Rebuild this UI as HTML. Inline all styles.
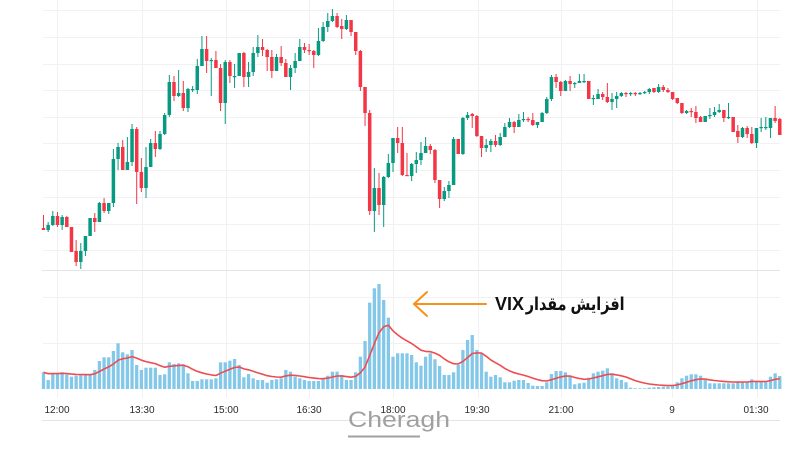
<!DOCTYPE html>
<html>
<head>
<meta charset="utf-8">
<style>
  html,body{margin:0;padding:0;background:#fff;}
  #wrap{position:relative;width:800px;height:450px;overflow:hidden;background:#fff;}
  svg{position:absolute;left:0;top:0;}
  .ann{position:absolute;top:293px;line-height:22px;font-size:18px;font-weight:bold;
       font-family:"Liberation Sans","DejaVu Sans",sans-serif;color:#111;white-space:nowrap;}
  #vix{left:495px;}
  #fa{right:175px;transform:scaleX(0.8);transform-origin:100% 50%;}
</style>
</head>
<body>
<div id="wrap">
<svg id="chart" width="800" height="450" viewBox="0 0 800 450" xmlns="http://www.w3.org/2000/svg">
  <g id="grid" stroke="#f1f1f3" stroke-width="1" shape-rendering="crispEdges">
    <line x1="43" y1="10.5" x2="780" y2="10.5"/>
    <line x1="43" y1="37.5" x2="780" y2="37.5"/>
    <line x1="43" y1="64.5" x2="780" y2="64.5"/>
    <line x1="43" y1="90.5" x2="780" y2="90.5"/>
    <line x1="43" y1="117.5" x2="780" y2="117.5"/>
    <line x1="43" y1="143.5" x2="780" y2="143.5"/>
    <line x1="43" y1="170.5" x2="780" y2="170.5"/>
    <line x1="43" y1="197.5" x2="780" y2="197.5"/>
    <line x1="43" y1="224.5" x2="780" y2="224.5"/>
    <line x1="43" y1="250.5" x2="780" y2="250.5"/>
    <line x1="43" y1="297.5" x2="780" y2="297.5"/>
    <line x1="43" y1="343.5" x2="780" y2="343.5"/>
    <line x1="57.5" y1="0" x2="57.5" y2="398"/>
    <line x1="142.5" y1="0" x2="142.5" y2="398"/>
    <line x1="226.5" y1="0" x2="226.5" y2="398"/>
    <line x1="309.5" y1="0" x2="309.5" y2="398"/>
    <line x1="393.5" y1="0" x2="393.5" y2="398"/>
    <line x1="478.5" y1="0" x2="478.5" y2="398"/>
    <line x1="561.5" y1="0" x2="561.5" y2="398"/>
    <line x1="672.5" y1="0" x2="672.5" y2="398"/>
    <line x1="757.5" y1="0" x2="757.5" y2="398"/>
  </g>
  <g stroke="#e3e4e8" stroke-width="1" shape-rendering="crispEdges">
    <line x1="42" y1="270.5" x2="780" y2="270.5"/>
    <line x1="42" y1="420.5" x2="780" y2="420.5"/>
  </g>
  <g id="vol"></g>
  <polyline id="ma" fill="none" stroke="#ee4c50" stroke-width="1.6" stroke-linejoin="round" points=""/>
  <g id="candles"></g>

  <!-- watermark -->
  <text x="348" y="427" font-family="Liberation Sans, sans-serif" font-size="22" fill="#a0a0a0" textLength="102" lengthAdjust="spacingAndGlyphs">Cheragh</text>
  <rect x="348" y="435.5" width="72" height="2" fill="#a0a0a0"/>

  <!-- axis labels -->
  <g font-family="Liberation Sans, sans-serif" font-size="10" fill="#2a2a2a" text-anchor="middle">
    <text x="57" y="413">12:00</text>
    <text x="142" y="413">13:30</text>
    <text x="226" y="413">15:00</text>
    <text x="309" y="413">16:30</text>
    <text x="393" y="413">18:00</text>
    <text x="477" y="413">19:30</text>
    <text x="561" y="413">21:00</text>
    <text x="672" y="413">9</text>
    <text x="756" y="413">01:30</text>
  </g>

  <!-- arrow -->
  <g stroke="#f5921e" stroke-width="2" fill="none" stroke-linecap="round" stroke-linejoin="round">
    <line x1="414" y1="304" x2="486" y2="304"/>
    <polyline points="427,292 414,304 427,316"/>
  </g>
</svg>
<div class="ann" id="vix">VIX</div>
<div class="ann" id="fa" dir="rtl">افزایش مقدار</div>
</div>
<script>
(function(){
var cs = "r 228 230 215 230|g 230 225 222 232|g 225 216 211 226|r 216 225 212 227|g 225 217 215 230|r 217 227 216 227|r 227 252 227 252|r 251 262 240 266|g 262 251 243 269|g 251 236 236 256|g 236 218 218 236|r 218 222 213 232|g 222 203 202 222|r 203 211 198 213|g 211 203 203 214|g 203 159 149 207|g 159 147 143 170|r 147 170 140 170|g 170 162 137 170|g 162 129 124 166|r 129 172 127 204|r 172 188 158 192|g 188 167 147 198|g 167 143 139 167|r 143 149 131 157|g 149 134 131 150|g 134 115 113 135|g 115 82 75 117|r 82 96 76 101|g 96 93 70 97|r 93 108 81 111|g 108 89 88 112|g 90 89 86 92|g 90 66 59 94|g 66 49 36 66|r 49 61 36 73|g 61 60 58 96|r 60 68 51 68|r 68 103 64 111|g 103 62 60 124|r 62 76 60 83|g 76 76 64 88|g 76 53 53 76|r 53 77 52 87|g 77 72 62 87|g 72 53 47 76|g 53 47 35 57|r 47 50 39 56|r 50 57 49 71|r 57 71 50 78|g 71 57 54 71|r 57 63 46 66|r 63 77 59 77|g 77 68 65 90|g 68 61 53 73|g 61 47 39 61|r 47 50 43 53|r 50 51 44 55|r 51 55 50 68|g 55 41 28 56|g 41 27 22 42|g 27 21 13 32|g 21 16 9 22|r 16 27 13 28|r 26 29 19 39|g 29 20 15 30|r 20 32 20 36|r 32 51 32 55|r 51 87 50 91|r 87 113 87 126|r 113 211 110 215|g 211 188 168 232|r 188 205 173 215|g 205 177 176 227|g 177 163 154 178|g 163 138 138 172|r 138 143 127 153|r 143 175 127 176|r 175 176 153 176|g 176 164 163 181|g 164 160 152 173|g 160 153 142 165|g 153 146 137 153|r 146 150 144 154|r 150 180 149 183|r 180 199 180 208|g 199 191 187 201|g 191 185 181 198|g 185 139 137 185|r 139 154 139 154|g 154 118 117 155|g 118 115 112 120|r 114 116 113 128|r 116 136 115 137|r 136 148 136 157|g 148 145 139 152|g 145 141 139 152|r 141 145 135 147|g 145 137 133 146|g 137 127 123 137|g 127 122 118 128|r 122 127 121 133|g 127 120 114 127|g 120 119 112 122|r 119 120 117 122|r 120 125 113 126|g 125 122 122 128|g 122 113 112 122|g 113 99 97 114|g 99 77 75 101|r 77 82 74 88|r 82 91 81 96|g 91 81 80 91|r 81 84 76 91|g 84 83 82 88|g 83 81 74 83|g 81 81 74 83|r 81 99 81 99|g 99 98 95 105|g 99 94 89 99|r 94 97 92 100|r 97 102 83 103|g 102 99 93 110|g 99 96 92 108|g 96 93 92 97|r 93 94 92 97|g 94 93 92 96|r 93 94 92 96|g 94 93 92 95|g 93 92 91 94|g 92 89 88 94|r 88 92 88 93|g 92 87 84 93|r 87 90 85 92|r 90 92 88 93|r 92 99 92 100|r 98 103 98 104|r 103 113 103 114|g 113 111 110 114|r 111 112 108 117|r 112 118 106 123|r 117 122 116 122|g 122 116 116 122|g 116 115 108 119|g 115 112 107 117|g 112 110 104 113|r 110 118 110 122|g 118 117 103 119|r 117 132 117 132|r 131 137 125 143|g 137 128 127 138|r 128 134 126 138|r 134 143 127 144|g 143 128 128 148|g 128 127 118 132|g 128 127 117 130|g 128 118 118 138|r 118 121 106 123|r 119 135 118 135";
var vs = [372.3,380,373.3,373.3,372.3,374.3,376.7,375.7,375,375,375,370,361,357.3,357.3,351,343.3,352.3,354.3,350,365,370,367.7,367.7,367.7,375,374.3,362.3,364,363.3,364.3,373.3,381,381,379.3,379.3,379.3,378.3,362.3,362.3,360.7,359,365,377.3,374,378.3,380,380,382.7,380,379.3,378.3,370,371.7,376.7,378.3,380,381,381,381,379,375.7,371.7,371.7,375,380,380,372.3,356.7,341,302.7,288.3,284,300,317.7,356.7,353.3,353.3,353.3,355,362.3,365.7,356.7,353.3,359.3,366,375,375,372.3,365,350,340,335,350,353.3,371.7,376.7,375,377.3,382.3,382.3,380.7,380,380,383,385.7,386,386,382.3,374,371,371,372.3,375.7,384.3,383.3,382.7,377.7,373.3,371.7,370.7,368.3,373.3,378.3,380,382.3,387.7,388.3,388.3,388.3,387.7,387.3,387,386.7,386.7,385,382.3,378.3,375.7,374.3,374.3,375.7,380,383.3,383.3,383.3,383.3,383.3,383.3,382.3,381.7,381.7,379.3,381,382.3,381,376.7,373.3,376];
var NS="http://www.w3.org/2000/svg";
var base=389, x0=43.5, dx=4.66;
var gC=document.getElementById('candles'), gV=document.getElementById('vol');
var rows=cs.split('|');
function el(n,a){var e=document.createElementNS(NS,n);for(var k in a)e.setAttribute(k,a[k]);return e;}
for(var i=0;i<rows.length;i++){
  var p=rows[i].split(' ');
  var col=p[0]==='g'?'#089981':'#f23645';
  var o=+p[1],c=+p[2],h=+p[3],l=+p[4];
  var cx=x0+i*dx;
  gC.appendChild(el('line',{x1:cx,y1:h,x2:cx,y2:l,stroke:col,'stroke-width':1}));
  var t=Math.min(o,c),b=Math.max(o,c);
  var hh=Math.max(1.2,b-t);
  gC.appendChild(el('rect',{x:cx-1.75,y:t,width:3.5,height:hh,fill:col}));
}
var pts=[],e=null,a=0.18;
for(var j=0;j<vs.length;j++){
  var cx2=x0+j*dx;
  var v=base-vs[j];
  gV.appendChild(el('rect',{x:cx2-1.65,y:vs[j],width:3.3,height:v,fill:'#84c8e9'}));
  e=(e===null)?v:(a*v+(1-a)*e);
  pts.push(cx2.toFixed(1)+','+(base-e).toFixed(1));
}
document.getElementById('ma').setAttribute('points',pts.join(' '));
})();
</script>
</body>
</html>
